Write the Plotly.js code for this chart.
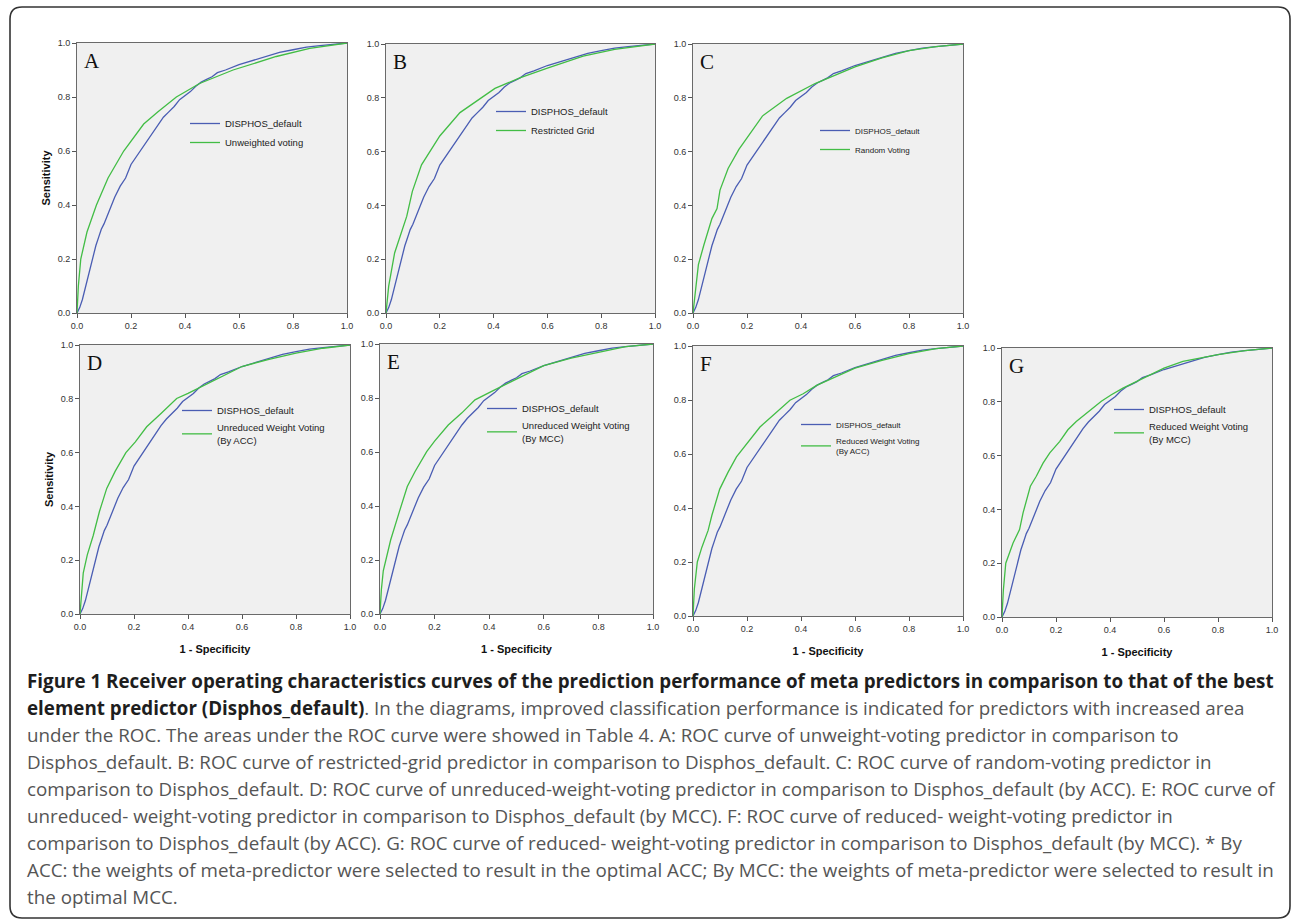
<!DOCTYPE html>
<html>
<head>
<meta charset="utf-8">
<script src="https://cdn.plot.ly/plotly-3.0.1.min.js"></script>
<style>html,body{margin:0;padding:0;background:#fff;}#chart{width:1293px;height:922px;}</style>
</head>
<body>
<div id="chart"></div>
<script>
// ---------- DATA ----------
const panelLetters = ['A', 'B', 'C', 'D', 'E', 'F', 'G'];
const baseName = 'DISPHOS_default';
const metaNames = [
  'Unweighted voting',
  'Restricted Grid',
  'Random Voting',
  'Unreduced Weight Voting<br>(By ACC)',
  'Unreduced Weight Voting<br>(By MCC)',
  'Reduced Weight Voting<br>(By ACC)',
  'Reduced Weight Voting<br>(By MCC)'
];
const tickVals = [0, 0.2, 0.4, 0.6, 0.8, 1.0];
const tickLabels = ['0.0', '0.2', '0.4', '0.6', '0.8', '1.0'];
const xTitle = '1 - Specificity';
const yTitle = 'Sensitivity';

// DISPHOS_default (same curve in every panel)
const disphosX = [0, 0.01, 0.02, 0.03, 0.04, 0.05, 0.06, 0.07, 0.08, 0.09, 0.10, 0.12, 0.14, 0.16, 0.18, 0.20, 0.22, 0.24, 0.26, 0.28, 0.30, 0.32, 0.34, 0.36, 0.38, 0.40, 0.42, 0.44, 0.46, 0.48, 0.50, 0.52, 0.55, 0.60, 0.65, 0.70, 0.75, 0.80, 0.85, 0.90, 0.95, 1.0];
const disphosY = [0, 0.02, 0.05, 0.09, 0.14, 0.18, 0.21, 0.25, 0.28, 0.31, 0.33, 0.38, 0.43, 0.47, 0.50, 0.55, 0.58, 0.61, 0.64, 0.67, 0.70, 0.725, 0.745, 0.765, 0.79, 0.805, 0.82, 0.84, 0.855, 0.865, 0.875, 0.89, 0.90, 0.92, 0.935, 0.95, 0.965, 0.975, 0.985, 0.99, 0.995, 1.0];

// Meta predictors
const unweightedX = [0, 0.005, 0.014, 0.037, 0.072, 0.115, 0.173, 0.247, 0.30, 0.368, 0.454, 0.578, 0.738, 0.862, 1];
const unweightedY = [0, 0.1, 0.2, 0.3, 0.4, 0.5, 0.6, 0.7, 0.745, 0.8, 0.85, 0.9, 0.95, 0.98, 1];

const restrictedX = [0, 0.01, 0.032, 0.077, 0.098, 0.132, 0.2, 0.275, 0.405, 0.5, 0.6, 0.733, 0.85, 1];
const restrictedY = [0, 0.1, 0.223, 0.359, 0.452, 0.551, 0.658, 0.745, 0.835, 0.875, 0.91, 0.955, 0.98, 1];

const randomX = [0, 0.01, 0.02, 0.04, 0.07, 0.089, 0.1, 0.13, 0.17, 0.257, 0.347, 0.452, 0.6, 0.7, 0.8, 0.9, 1];
const randomY = [0, 0.1, 0.18, 0.252, 0.351, 0.388, 0.457, 0.537, 0.608, 0.732, 0.798, 0.853, 0.915, 0.948, 0.975, 0.99, 1];

const unredAccX = [0, 0.005, 0.012, 0.027, 0.049, 0.072, 0.099, 0.13, 0.17, 0.205, 0.247, 0.3, 0.358, 0.4, 0.47, 0.6, 0.7, 0.8, 0.9, 1];
const unredAccY = [0, 0.08, 0.152, 0.22, 0.292, 0.381, 0.467, 0.53, 0.6, 0.64, 0.696, 0.745, 0.801, 0.82, 0.855, 0.92, 0.947, 0.97, 0.988, 1];

const unredMccX = [0, 0.005, 0.012, 0.039, 0.071, 0.1, 0.128, 0.171, 0.2, 0.25, 0.3, 0.348, 0.4, 0.47, 0.6, 0.7, 0.8, 0.9, 1];
const unredMccY = [0, 0.09, 0.16, 0.274, 0.379, 0.472, 0.527, 0.601, 0.64, 0.7, 0.745, 0.793, 0.82, 0.855, 0.92, 0.948, 0.968, 0.99, 1];

const redAccX = [0, 0.005, 0.016, 0.033, 0.056, 0.07, 0.099, 0.13, 0.161, 0.198, 0.248, 0.303, 0.359, 0.408, 0.458, 0.6, 0.7, 0.8, 0.9, 1];
const redAccY = [0, 0.1, 0.2, 0.255, 0.317, 0.373, 0.47, 0.533, 0.589, 0.638, 0.7, 0.749, 0.799, 0.823, 0.854, 0.918, 0.947, 0.972, 0.99, 1];

const redMccX = [0, 0.005, 0.014, 0.041, 0.065, 0.078, 0.105, 0.127, 0.152, 0.177, 0.214, 0.244, 0.275, 0.331, 0.368, 0.405, 0.448, 0.6, 0.67, 0.8, 0.9, 1];
const redMccY = [0, 0.1, 0.2, 0.275, 0.325, 0.387, 0.486, 0.523, 0.572, 0.61, 0.653, 0.696, 0.727, 0.771, 0.802, 0.826, 0.851, 0.925, 0.95, 0.975, 0.99, 1];

const captionLines = [
  '<b>Figure 1 Receiver operating characteristics curves of the prediction performance of meta predictors in comparison to that of the best</b>',
  '<b><span style="color:#1e1e1e">element predictor (Disphos_default)</span></b>. In the diagrams, improved classification performance is indicated for predictors with increased area',
  'under the ROC. The areas under the ROC curve were showed in Table 4. A: ROC curve of unweight-voting predictor in comparison to',
  'Disphos_default. B: ROC curve of restricted-grid predictor in comparison to Disphos_default. C: ROC curve of random-voting predictor in',
  'comparison to Disphos_default. D: ROC curve of unreduced-weight-voting predictor in comparison to Disphos_default (by ACC). E: ROC curve of',
  'unreduced- weight-voting predictor in comparison to Disphos_default (by MCC). F: ROC curve of reduced- weight-voting predictor in',
  'comparison to Disphos_default (by ACC). G: ROC curve of reduced- weight-voting predictor in comparison to Disphos_default (by MCC). * By',
  'ACC: the weights of meta-predictor were selected to result in the optimal ACC; By MCC: the weights of meta-predictor were selected to result in',
  'the optimal MCC.'
];

const metaX = [unweightedX, restrictedX, randomX, unredAccX, unredMccX, redAccX, redMccX];
const metaY = [unweightedY, restrictedY, randomY, unredAccY, unredMccY, redAccY, redMccY];

// ---------- LAYOUT (pixel boxes) ----------
const W = 1293, H = 922;
const boxes = [ // [left, top, right, bottom] in px
  [77, 43, 347, 313],
  [386, 44, 655, 313],
  [693, 44, 963, 313],
  [80, 345, 350, 614],
  [380, 344, 653, 614],
  [693, 346, 963, 616],
  [1002, 348, 1272, 617]
];
// legend: [text left px, first row centre px, font size]
const legendPos = [
  [225, 126, 9.5],
  [531, 114, 9.5],
  [855, 133, 8],
  [217, 413, 9.5],
  [522, 411, 9.5],
  [836, 427, 8],
  [1149, 412, 9.5]
];
const showYTitle = [true, false, false, true, false, false, false];
const showXTitle = [false, false, false, true, true, true, true];

const px = v => v / W;
const py = v => 1 - v / H;

const blue = '#4a5db3';
const green = '#42bd45';

const data = [];
const layout = {
  width: W, height: H,
  margin: {l: 0, r: 0, t: 0, b: 0},
  paper_bgcolor: '#ffffff',
  plot_bgcolor: '#f0f0f0',
  font: {family: 'Arial, Liberation Sans, sans-serif', color: '#333'},
  showlegend: true,
  annotations: [],
  shapes: []
};

boxes.forEach((b, i) => {
  const n = i + 1;
  const xa = 'x' + (n === 1 ? '' : n);
  const ya = 'y' + (n === 1 ? '' : n);
  const lg = 'legend' + (n === 1 ? '' : n);
  data.push({
    x: disphosX, y: disphosY, type: 'scatter', mode: 'lines',
    name: baseName, xaxis: xa, yaxis: ya, legend: lg,
    line: {color: blue, width: 1.3}
  });
  data.push({
    x: metaX[i], y: metaY[i], type: 'scatter', mode: 'lines',
    name: metaNames[i], xaxis: xa, yaxis: ya, legend: lg,
    line: {color: green, width: 1.3}
  });
  const axCommon = {
    range: [0, 1], tickvals: tickVals, ticktext: tickLabels,
    ticks: 'outside', ticklen: 4, tickcolor: '#555', tickwidth: 1,
    showline: true, mirror: true, linecolor: '#6a6a6a', linewidth: 1,
    showgrid: false, zeroline: false, fixedrange: true,
    tickfont: {family: 'Arial, Liberation Sans, sans-serif', size: 9, color: '#333'}
  };
  layout['xaxis' + (n === 1 ? '' : n)] = Object.assign({}, axCommon, {
    domain: [px(b[0]), px(b[2])], anchor: ya,
    title: showXTitle[i] ? {text: '<b>' + xTitle + '</b>', font: {size: 11, color: '#111'}, standoff: 14} : {text: ''}
  });
  layout['yaxis' + (n === 1 ? '' : n)] = Object.assign({}, axCommon, {
    domain: [py(b[3]), py(b[1])], anchor: xa,
    title: showYTitle[i] ? {text: '<b>' + yTitle + '</b>', font: {size: 11, color: '#111'}, standoff: 4} : {text: ''}
  });
  const lp = legendPos[i];
  layout[lg] = {
    x: px(lp[0] - 40), y: py(lp[1] - 17), xanchor: 'left', yanchor: 'top',
    bgcolor: 'rgba(0,0,0,0)', borderwidth: 0,
    font: {family: 'Arial, Liberation Sans, sans-serif', size: lp[2], color: '#222'},
    itemwidth: 30, tracegroupgap: 0, traceorder: 'normal'
  };
  layout.annotations.push({
    text: panelLetters[i], xref: xa + ' domain', yref: ya + ' domain',
    x: 0.02, y: 0.985, xanchor: 'left', yanchor: 'top', showarrow: false,
    font: {family: 'Liberation Serif, Times New Roman, serif', size: 21, color: '#111'}
  });
});

// caption
captionLines.forEach((t, i) => {
  layout.annotations.push({
    text: t, xref: 'paper', yref: 'paper',
    x: px(25), y: py(681 + 27 * i), xanchor: 'left', yanchor: 'middle', align: 'left',
    showarrow: false,
    font: {family: 'Open Sans, sans-serif', size: 18.8, color: i === 0 ? '#1e1e1e' : '#555'}
  });
});

// outer rounded frame
const L = 10, T = 7, R = 1290, B = 918, r = 12;
layout.shapes.push({
  type: 'path', xref: 'paper', yref: 'paper',
  path: `M ${px(L + r)},${py(T)} L ${px(R - r)},${py(T)} Q ${px(R)},${py(T)} ${px(R)},${py(T + r)} ` +
        `L ${px(R)},${py(B - r)} Q ${px(R)},${py(B)} ${px(R - r)},${py(B)} ` +
        `L ${px(L + r)},${py(B)} Q ${px(L)},${py(B)} ${px(L)},${py(B - r)} ` +
        `L ${px(L)},${py(T + r)} Q ${px(L)},${py(T)} ${px(L + r)},${py(T)} Z`,
  line: {color: '#333', width: 1.6}, fillcolor: 'rgba(0,0,0,0)', layer: 'below'
});

Plotly.newPlot('chart', data, layout, {displayModeBar: false, staticPlot: true});
</script>
</body>
</html>
